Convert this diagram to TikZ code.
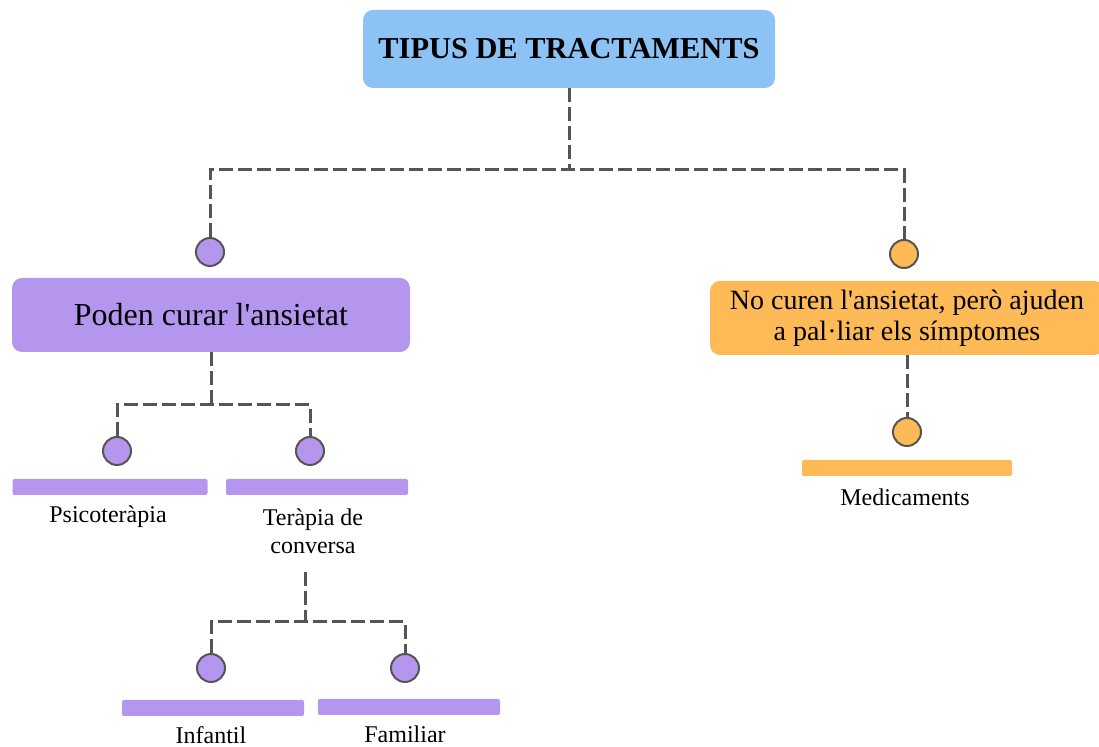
\documentclass[tikz,border=0pt]{standalone}
\usepackage{fontspec}
\setmainfont{Liberation Serif}
\usepackage{tikz}
\usetikzlibrary{positioning}
\definecolor{titleblue}{HTML}{8CC2F4}
\definecolor{lila}{HTML}{B596EF}
\definecolor{taronja}{HTML}{FDBA56}
\definecolor{linegray}{HTML}{555555}
\tikzset{title/.style={fill=titleblue, rounded corners=5pt,
		minimum width=206pt, minimum height=39pt, font=\fontsize{15.2}{18}\selectfont\bfseries},
	topic/.style={rounded corners=5pt, minimum height=37pt, align=center},
	dot/.style={draw=linegray, line width=1pt, circle, minimum size=14pt, inner sep=0pt},
	bar/.style={rounded corners=1pt, minimum width=97.5pt, minimum height=8pt, inner sep=0pt},
	leaf/.style={font=\fontsize{12}{14}\selectfont, align=center, inner sep=0pt},
	link/.style={draw=linegray,line width=1.5pt,dash pattern=on 7pt off 2.5pt}}

\begin{document}
\begin{tikzpicture}[x=0.5pt,y=-0.5pt]
		\useasboundingbox(0,0)rectangle(1099,747);
		\node[title](title)at(569,49){TIPUS DE TRACTAMENTS};
		
		\node[dot,fill=lila](c1)at(210,252){};
		\node[dot,fill=taronja](c2)at(904,254){};
		\node[topic,fill=lila,minimum width=199pt,font=\fontsize{16}{19}\selectfont](cura)at(211,315){Poden curar l\textquotesingle ansietat};
		\node[topic,fill=taronja,minimum width=197pt,font=\fontsize{14}{15.5}\selectfont](pal)at(907,318){No curen l\textquotesingle ansietat, però ajuden\\a pal·liar els símptomes};
		
		% medicaments
		\node[dot,fill=taronja](c3)at(907,432){};
		\node[bar,fill=taronja,minimum width=105pt](b3)at(907,468){};
		\node[leaf](medic)at(905,497){Medicaments};
		
		% psicoterapia
		\foreach \n/\x in{4/117,5/310}
		\node[dot,fill=lila](c\n)at(\x,451){};
		\node[bar,fill=lila](b4)at(110,487){};
		\node[bar,fill=lila,minimum width=91pt](b5)at(317,487){};
		\node[leaf](psico)at(108,517){Psicoteràpia};
		\node[leaf](conv)at(313,531){Teràpia de\\conversa};
		\coordinate(conv1)at(305,572);
		
		\foreach \n/\x in{6/211,7/405}
		\node[dot,fill=lila](c\n)at(\x,668){};
		\node[bar,fill=lila,minimum width=91pt](b6)at(213,708){};
		\node[bar,fill=lila,minimum width=91pt](b7)at(409,707){};
		\node[leaf](inf)at(211,735){Infantil};
		\node[leaf](fam)at(405,734){Familiar};
		
		\draw[link](title.south)--(title.south|-0,170);
		\draw[link](c1.north)|-(title.south|-0,170)-|(c2.north);
		\draw[link](cura.south)--(cura.south|-0,405);
		\draw[link](c4.north)|-(cura.south|-0,405)-|(c5.north);
		\draw[link](pal.south)--(c3.north);
		\draw[link](conv1)--(conv1|-0,622);
		\draw[link](c6.north)|-(conv1|-0,622)-|(c7.north);
	\end{tikzpicture}
\end{document}
